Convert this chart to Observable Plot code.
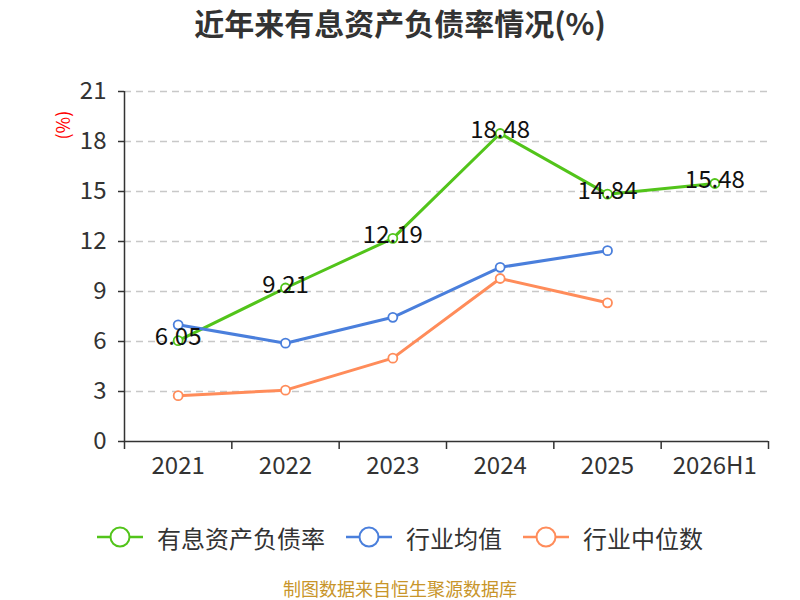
<!DOCTYPE html>
<html>
<head>
<meta charset="utf-8">
<script src="https://cdn.jsdelivr.net/npm/d3@7"></script>
<script src="https://cdn.jsdelivr.net/npm/@observablehq/plot@0.6"></script>
<style>
  html, body { margin: 0; padding: 0; background: #fff; }
  body { width: 800px; height: 600px; position: relative; overflow: hidden;
         font-family: "Noto Sans CJK SC", "Noto Sans", sans-serif; }
  #title { position: absolute; left: 0; top: 0; width: 800px; height: 44px; line-height: 44px;
           text-align: center; font-size: 30px; font-weight: bold; color: #333; }
  #chart { position: absolute; left: 0; top: 50px; }
  #legend { position: absolute; left: 0; top: 517px; width: 800px; height: 40px;
            display: flex; justify-content: center; align-items: center; gap: 21px;
            font-size: 24px; color: #333; }
  .item { display: flex; align-items: center; gap: 14px; }
  #caption { position: absolute; left: 0; top: 578px; width: 800px; height: 20px; line-height: 20px;
             text-align: center; font-size: 18px; color: #c8952a; }
</style>
</head>
<body>
<div id="title">近年来有息资产负债率情况(%)</div>
<div id="chart"></div>
<div id="legend"></div>
<div id="caption">制图数据来自恒生聚源数据库</div>
<script>
const categories = ["2021", "2022", "2023", "2024", "2025", "2026H1"];
const seriesNames = ["有息资产负债率", "行业均值", "行业中位数"];
const seriesColors = ["#52c41a", "#4a7fdc", "#ff8c5a"];
const debtRatio = [6.05, 9.21, 12.19, 18.48, 14.84, 15.48];
const industryMean = [7.0, 5.9, 7.45, 10.45, 11.45, null];
const industryMedian = [2.75, 3.08, 5.0, 9.78, 8.32, null];
const yTicks = [0, 3, 6, 9, 12, 15, 18, 21];

const seriesValues = [debtRatio, industryMean, industryMedian];
const data = [];
seriesValues.forEach((vals, s) => {
  vals.forEach((v, i) => {
    if (v != null) data.push({series: seriesNames[s], i, value: v});
  });
});
const labelData = data.filter(d => d.series === seriesNames[0]);
const boundaries = d3.range(categories.length + 1).map(i => i - 0.5);
const centers = d3.range(categories.length);

const font = "Noto Sans CJK SC, Noto Sans, sans-serif";

const plot = Plot.plot({
  width: 800,
  height: 440,
  marginLeft: 124,
  marginRight: 32,
  marginTop: 41,
  marginBottom: 49,
  style: {fontFamily: font, color: "#333", background: "transparent", overflow: "visible"},
  x: {domain: [-0.5, categories.length - 0.5], axis: null},
  y: {domain: [0, 21], axis: null},
  color: {domain: seriesNames, range: seriesColors},
  marks: [
    Plot.ruleY(yTicks.filter(t => t > 0), {stroke: "#c8c8c8", strokeWidth: 1.5, strokeDasharray: "7,5"}),
    Plot.axisY({ticks: yTicks, tickSize: 6, tickPadding: 12, fontSize: 24, label: null, stroke: "#333", strokeWidth: 1.5}),
    Plot.axisX({ticks: boundaries, tickSize: 8, tickFormat: () => "", label: null, stroke: "#333", strokeWidth: 1.5}),
    Plot.axisX({ticks: centers, tickSize: 0, tickPadding: 15, fontSize: 24, tickFormat: i => categories[i], label: null}),
    Plot.ruleX([-0.5], {stroke: "#333", strokeWidth: 1.5}),
    Plot.ruleY([0], {stroke: "#333", strokeWidth: 1.5}),
    Plot.line(data, {x: "i", y: "value", z: "series", stroke: "series", strokeWidth: 3}),
    Plot.dot(data, {x: "i", y: "value", stroke: "series", fill: "white", r: 4.5, strokeWidth: 1.8}),
    Plot.text(labelData, {x: "i", y: "value", text: d => d.value.toFixed(2), fontSize: 24, fill: "#111", dy: -3}),
    Plot.text(["(%)"], {frameAnchor: "top-left", dx: -67, dy: 48, rotate: -90, fill: "red", fontSize: 18})
  ]
});
document.getElementById("chart").appendChild(plot);

const legend = d3.select("#legend");
seriesNames.forEach((name, s) => {
  const item = legend.append("div").attr("class", "item");
  const svg = item.append("svg").attr("width", 46).attr("height", 24);
  svg.append("line").attr("x1", 0).attr("x2", 46).attr("y1", 12).attr("y2", 12)
    .attr("stroke", seriesColors[s]).attr("stroke-width", 2.5);
  svg.append("circle").attr("cx", 23).attr("cy", 12).attr("r", 9.5)
    .attr("fill", "white").attr("stroke", seriesColors[s]).attr("stroke-width", 2);
  item.append("span").text(name);
});
</script>
</body>
</html>
